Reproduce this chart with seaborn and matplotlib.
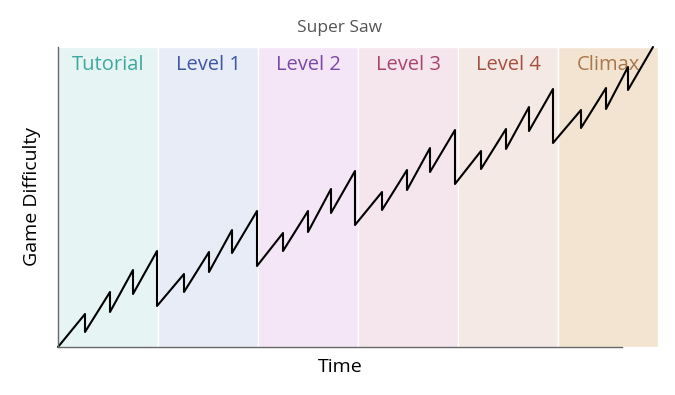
import pandas as pd
import seaborn as sns
import matplotlib.pyplot as plt

# Band (stage) names and colours
stages = ['Tutorial', 'Level 1', 'Level 2', 'Level 3', 'Level 4', 'Climax']
band_colors = ['#e6f5f3', '#e8ecf6', '#f4e6f6', '#f5e6ee', '#f5e9e5', '#f3e4d2']
label_colors = ['#3ea89e', '#3f56a3', '#7b48a8', '#a8456c', '#a5503f', '#a8774a']

# Sawtooth vertices (time in stage units)
time = [0.00,
        0.27, 0.27, 0.52, 0.52, 0.75, 0.75, 0.99, 0.99,
        1.26, 1.26, 1.51, 1.51, 1.74, 1.74, 1.99, 1.99,
        2.25, 2.25, 2.50, 2.50, 2.73, 2.73, 2.97, 2.97,
        3.24, 3.24, 3.49, 3.49, 3.72, 3.72, 3.97, 3.97,
        4.23, 4.23, 4.48, 4.48, 4.71, 4.71, 4.95, 4.95,
        5.23, 5.23, 5.48, 5.48, 5.70, 5.70, 5.95]
difficulty = [0.0,
              3.3, 1.5, 5.5, 3.5, 7.7, 5.3, 9.6, 4.1,
              7.3, 5.5, 9.5, 7.5, 11.7, 9.4, 13.6, 8.1,
              11.4, 9.6, 13.6, 11.5, 15.8, 13.4, 17.6, 12.2,
              15.5, 13.7, 17.7, 15.7, 19.9, 17.5, 21.7, 16.3,
              19.6, 17.8, 21.8, 19.8, 24.0, 21.6, 25.8, 20.4,
              23.7, 21.9, 25.9, 23.8, 28.0, 25.7, 30.0]

df = pd.DataFrame({'Time': time, 'Difficulty': difficulty})

sns.set_style('white')
plt.rcParams['font.family'] = ['Open Sans', 'DejaVu Sans']

fig = plt.figure(figsize=(6.75, 3.95), dpi=100)
ax = fig.add_axes([58 / 675, 48 / 395, 564 / 675, 300 / 395])

# Coloured stage bands (they run past the right end of the axis)
for i, (name, bc, lc) in enumerate(zip(stages, band_colors, label_colors)):
    span = ax.axvspan(i, i + 1, facecolor=bc, edgecolor='white', linewidth=1, zorder=0)
    span.set_clip_on(False)
    ax.text(i + 0.5, 28.2, name, color=lc, fontsize=14.5, ha='center', va='center',
            clip_on=False, zorder=1)

sns.lineplot(data=df, x='Time', y='Difficulty', sort=False, estimator=None,
             color='black', linewidth=1.5, ax=ax, clip_on=False, zorder=3)

ax.set_xlim(0, 5.64)
ax.set_ylim(0, 30)
ax.set_xticks([])
ax.set_yticks([])
ax.set_xlabel('Time', fontsize=14, color='black', labelpad=8)
ax.set_ylabel('Game Difficulty', fontsize=14, color='black', labelpad=12)
ax.set_title('Super Saw', fontsize=12.5, color='#555555', pad=11)

sns.despine(ax=ax)
for side in ['left', 'bottom']:
    ax.spines[side].set_color('#666666')
    ax.spines[side].set_linewidth(1)
    ax.spines[side].set_zorder(4)

fig.savefig('out.png', dpi=100)
